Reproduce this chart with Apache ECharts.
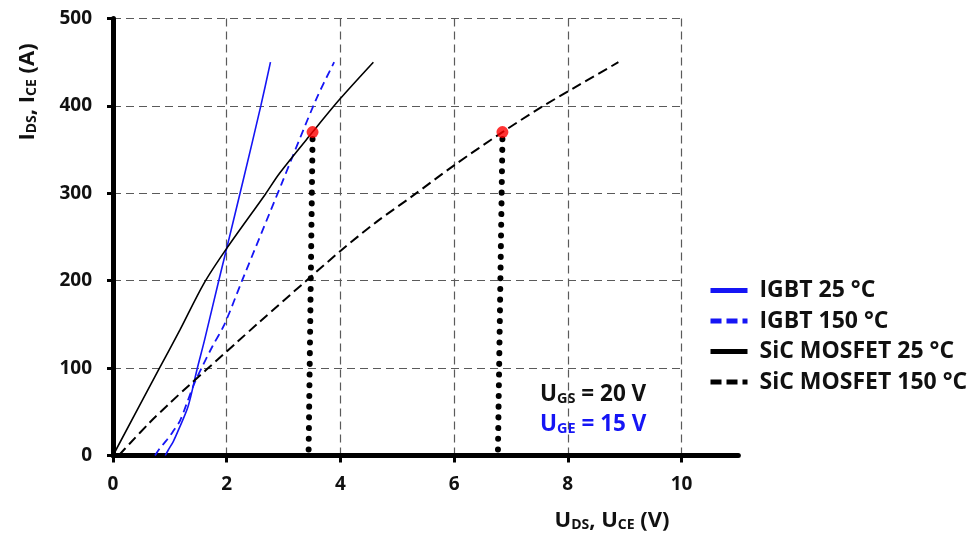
<!DOCTYPE html>
<html>
<head>
<meta charset="utf-8">
<script src="https://cdn.jsdelivr.net/npm/echarts@6/dist/echarts.min.js"></script>
<style>
  html, body { margin: 0; padding: 0; background: #fff; }
  #chart { width: 974px; height: 533px; }
</style>
</head>
<body>
<div id="chart"></div>
<script>
// Output characteristics: current I (A) versus voltage U (V)
const seriesNames = ['IGBT 25 °C', 'IGBT 150 °C', 'SiC MOSFET 25 °C', 'SiC MOSFET 150 °C'];

const igbt25 = [[0.92,0],[0.97,6],[1.06,16],[1.15,29],[1.32,56],[1.48,99],[1.61,132],[1.86,200],[2.0,237],[2.29,315],[2.6,400],[2.77,450]];
const igbt150 = [[0.74,0],[0.82,8],[0.95,18],[1.05,27],[1.18,40],[1.3,60],[1.44,84],[1.58,103],[1.75,125],[1.96,150],[2.27,200],[2.96,310],[3.57,407],[3.89,450]];
const sic25 = [[0,0],[0.81,99],[1.18,144],[1.6,197],[2.0,237],[2.68,299],[2.93,323],[3.51,370],[3.98,407],[4.58,450]];
const sic150 = [[0.1,0],[0.3,14],[0.65,38],[1.0,60],[1.35,81],[1.64,98],[2.17,129],[2.58,153],[3.4,200],[4.0,234],[4.63,267],[5.27,297],[6.0,332],[6.85,370],[7.52,398],[8.2,424],[8.89,450]];

// Operating points at 370 A and their drops to the voltage axis
const markedPoints = [[3.51,370],[6.85,370]];
const dropLow = [[3.51,362],[3.44,0]];
const dropHigh = [[6.85,362],[6.77,0]];

const xMax = 10, xAxisEnd = 11, yMax = 500;
const xStep = 2, yStep = 100;

const BLUE = '#1515f5';
const FONT = '"Open Sans", "DejaVu Sans", sans-serif';

const chart = echarts.init(document.getElementById('chart'), null, { renderer: 'canvas' });

const gridDash = [8, 5];
const keyDash = [11, 5];

const richName = {
  b: { fontSize: 22, fontWeight: 'bold', fontFamily: FONT, verticalAlign: 'bottom', lineHeight: 26 },
  s: { fontSize: 14, fontWeight: 'bold', fontFamily: FONT, verticalAlign: 'bottom', lineHeight: 23 }
};

function richNote(color) {
  return {
    b: { fontSize: 22.5, fontWeight: 'bold', fontFamily: FONT, verticalAlign: 'bottom', lineHeight: 26, fill: color },
    s: { fontSize: 14.5, fontWeight: 'bold', fontFamily: FONT, verticalAlign: 'bottom', lineHeight: 23, fill: color }
  };
}

chart.setOption({
  animation: false,
  backgroundColor: '#ffffff',
  textStyle: { fontFamily: FONT },
  grid: [
    { left: 113, top: 18.5, width: 568.5, height: 437, containLabel: false },
    { left: 113, top: 18.5, width: 625.35, height: 437, containLabel: false }
  ],
  xAxis: [
    {
      type: 'value', gridIndex: 0, min: 0, max: xMax, interval: xStep,
      axisLine: { show: false },
      axisTick: { show: true, length: 7, lineStyle: { color: '#000', width: 3 } },
      axisLabel: { margin: 20, color: '#111', fontSize: 19, fontWeight: 'bold', fontFamily: FONT },
      splitLine: { show: true, lineStyle: { color: '#5a5a5a', width: 1.2, type: gridDash } }
    },
    {
      type: 'value', gridIndex: 1, min: 0, max: xAxisEnd,
      axisLine: { show: true, onZero: false, lineStyle: { color: '#000', width: 5 } },
      axisTick: { show: false }, axisLabel: { show: false }, splitLine: { show: false }
    }
  ],
  yAxis: [
    {
      type: 'value', gridIndex: 0, min: 0, max: yMax, interval: yStep,
      axisLine: { show: true, lineStyle: { color: '#000', width: 5 } },
      axisTick: { show: true, length: 6, lineStyle: { color: '#000', width: 3 } },
      axisLabel: { margin: 21, color: '#111', fontSize: 19, fontWeight: 'bold', fontFamily: FONT },
      splitLine: { show: true, lineStyle: { color: '#5a5a5a', width: 1.2, type: gridDash } }
    },
    {
      type: 'value', gridIndex: 1, min: 0, max: yMax, show: false
    }
  ],
  legend: {
    orient: 'vertical',
    left: 708, top: 279, padding: 0,
    itemWidth: 37, itemHeight: 14, itemGap: 7.5,
    itemStyle: { opacity: 0 },
    lineStyle: { width: 5 },
    textStyle: { color: '#111', fontSize: 23, fontWeight: 'bold', fontFamily: FONT, lineHeight: 22, padding: [0, 0, 0, 7] },
    data: [
      { name: seriesNames[0], lineStyle: { width: 5, type: 'solid' } },
      { name: seriesNames[1], lineStyle: { width: 5, type: keyDash } },
      { name: seriesNames[2], lineStyle: { width: 5, type: 'solid' } },
      { name: seriesNames[3], lineStyle: { width: 5, type: keyDash } }
    ]
  },
  graphic: [
    {
      type: 'text', x: 26, y: 92, rotation: Math.PI / 2,
      style: {
        text: '{b|I}{s|DS}{b|, I}{s|CE}{b| (A)}',
        align: 'center', verticalAlign: 'middle',
        fill: '#111', rich: richName
      }
    },
    {
      type: 'text', x: 612, y: 519,
      style: {
        text: '{b|U}{s|DS}{b|, U}{s|CE}{b| (V)}',
        align: 'center', verticalAlign: 'middle',
        fill: '#111', rich: richName
      }
    },
    {
      type: 'text', x: 540, y: 393,
      style: {
        text: '{b|U}{s|GS}{b| = 20 V}',
        align: 'left', verticalAlign: 'middle',
        fill: '#111', rich: richNote('#111')
      }
    },
    {
      type: 'text', x: 540, y: 423,
      style: {
        text: '{b|U}{s|GE}{b| = 15 V}',
        align: 'left', verticalAlign: 'middle',
        fill: BLUE, rich: richNote(BLUE)
      }
    }
  ],
  series: [
    {
      name: seriesNames[0], type: 'line', xAxisIndex: 0, yAxisIndex: 0,
      data: igbt25, smooth: 0.3, symbol: 'none',
      lineStyle: { color: BLUE, width: 1.6 }, itemStyle: { color: BLUE }, z: 3
    },
    {
      name: seriesNames[1], type: 'line', xAxisIndex: 0, yAxisIndex: 0,
      data: igbt150, smooth: 0.3, symbol: 'none',
      lineStyle: { color: BLUE, width: 1.8, type: [8, 5] }, itemStyle: { color: BLUE }, z: 3
    },
    {
      name: seriesNames[2], type: 'line', xAxisIndex: 0, yAxisIndex: 0,
      data: sic25, smooth: 0.3, symbol: 'none',
      lineStyle: { color: '#000', width: 1.6 }, itemStyle: { color: '#000' }, z: 3
    },
    {
      name: seriesNames[3], type: 'line', xAxisIndex: 0, yAxisIndex: 0,
      data: sic150, smooth: 0.3, symbol: 'none',
      lineStyle: { color: '#000', width: 2, type: [10, 5] }, itemStyle: { color: '#000' }, z: 3
    },
    {
      name: 'drop-low', type: 'line', xAxisIndex: 0, yAxisIndex: 0,
      data: dropLow, symbol: 'none', silent: true,
      lineStyle: { color: '#000', width: 6, type: [0.1, 10.6], cap: 'round' }, z: 4
    },
    {
      name: 'drop-high', type: 'line', xAxisIndex: 0, yAxisIndex: 0,
      data: dropHigh, symbol: 'none', silent: true,
      lineStyle: { color: '#000', width: 6, type: [0.1, 10.6], cap: 'round' }, z: 4
    },
    {
      name: 'points', type: 'scatter', xAxisIndex: 0, yAxisIndex: 0,
      data: markedPoints, symbol: 'circle', symbolSize: 12,
      itemStyle: { color: '#ff0000' }, z: 5
    }
  ]
});
</script>
</body>
</html>
